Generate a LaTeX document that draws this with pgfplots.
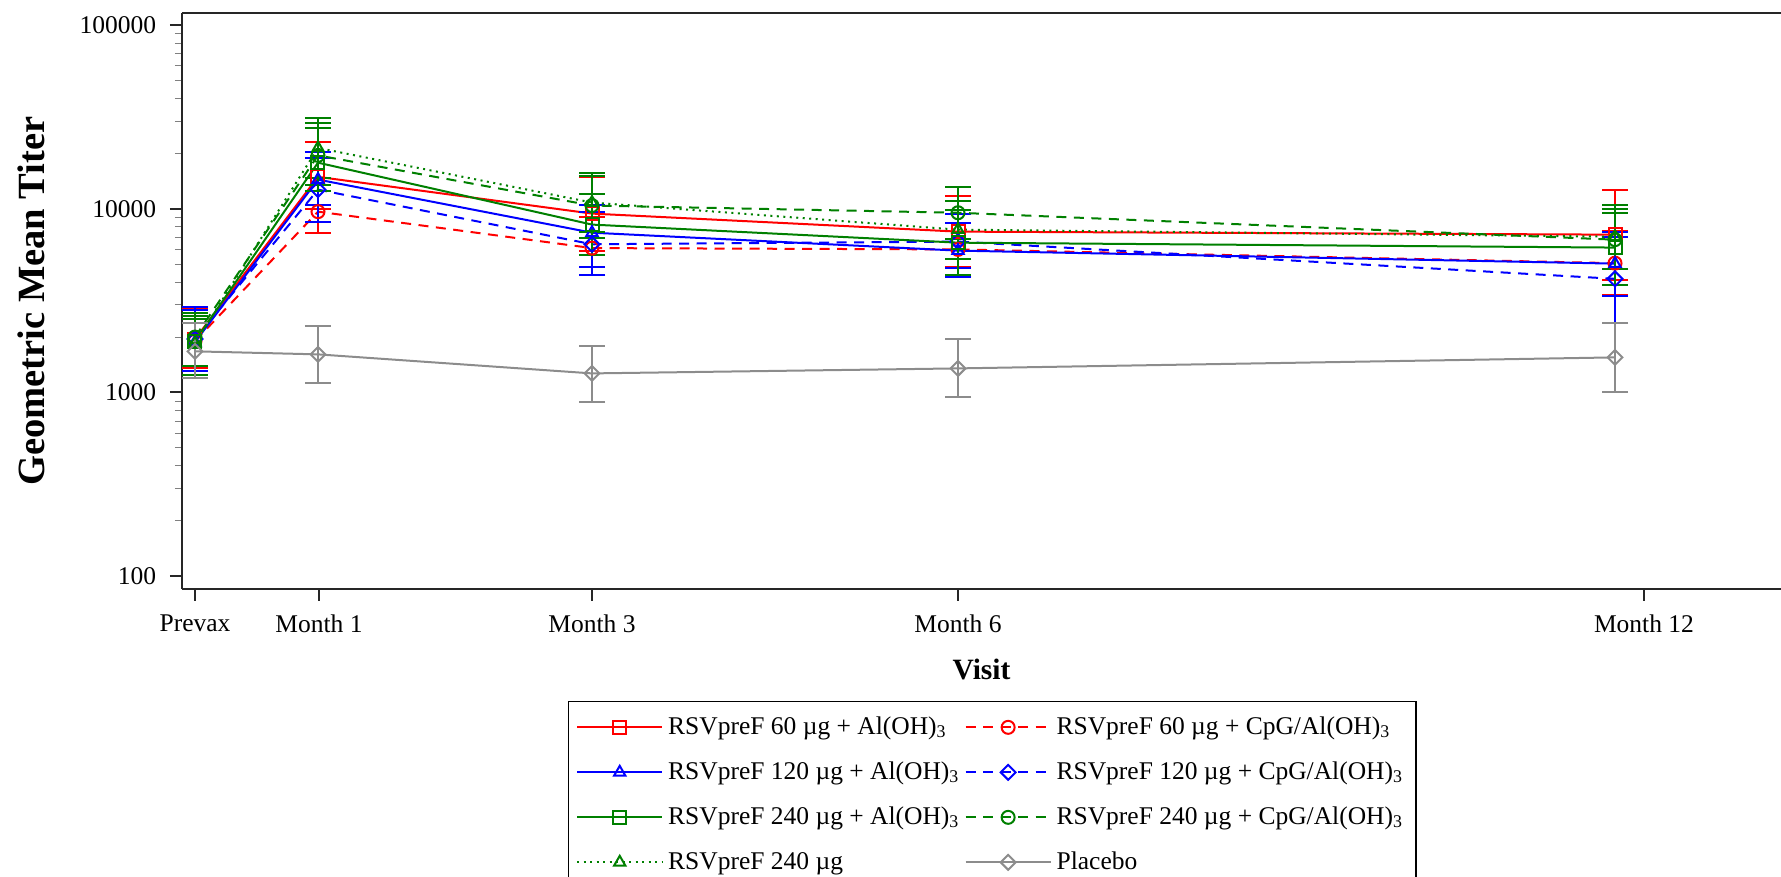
\documentclass[border=0pt]{standalone}
\usepackage{fontspec}
\setmainfont{Liberation Serif}
\usepackage{pgfplots}
\pgfplotsset{compat=1.18}

\definecolor{sasred}{RGB}{255,0,0}
\definecolor{sasblue}{RGB}{0,0,255}
\definecolor{sasgreen}{RGB}{0,128,0}
\definecolor{sasgray}{RGB}{140,140,140}

\pgfplotsset{
  ser/.style={line width=0.8pt, mark size=2.6pt, mark options={solid,line width=0.8pt},
    error bars/y dir=both, error bars/y explicit,
    error bars/error bar style={solid,line width=0.8pt},
    error bars/error mark options={rotate=90,mark size=5.2pt,line width=0.8pt,solid}},
  dia/.style={mark=square, mark size=2.1pt, mark options={solid,line width=0.8pt,rotate=45}},
  dsh/.style={dash pattern=on 4pt off 3pt},
  dts/.style={dash pattern=on 0.8pt off 1.8pt},
}

\begin{document}
\begin{tikzpicture}
\begin{axis}[
    scale only axis,
    width=639.6pt, height=230.4pt,
    ymode=log,
    xmin=182, xmax=1781,
    ymin=85, ymax=116200,
    axis x line=box, axis y line*=left,
    xtick pos=bottom,
    tick align=outside,
    major tick length=4.8pt,
    axis line style={line width=0.8pt, black!85},
    major tick style={line width=0.8pt, black!85},
    minor tick num=0,
    xtick={195,319,592,958,1644},
    xticklabels={Prevax,Month 1,Month 3,Month 6,Month 12},
    ytick={100,1000,10000,100000},
    yticklabels={100,1000,10000,100000},
    tick label style={font=\fontsize{10.2}{12}\selectfont},
    xticklabel style={yshift=-2pt},
    yticklabel style={xshift=-2pt},
    xlabel={Visit},
    ylabel={Geometric Mean Titer},
    xlabel style={font=\bfseries\fontsize{11.8}{14}\selectfont, at={(axis description cs:0.5,-0.1406)}, anchor=center},
    ylabel style={font=\bfseries\fontsize{15.4}{18}\selectfont, at={(axis description cs:-0.1032,0.5)}, anchor=north, inner sep=0pt},
    legend columns=2,
    legend cell align=left,
    legend image code/.code={\draw[mark repeat=2,mark phase=2] plot coordinates {(0pt,0pt) (17pt,0pt) (34pt,0pt)};},
    legend style={at={(axis description cs:0.2414,-0.1944)}, anchor=north west,
      draw=black, line width=0.6pt, inner sep=3pt,
      font=\fontsize{10.2}{12}\selectfont,
      nodes={inner sep=2pt, text height=8pt, text depth=2.5pt},
      row sep=3.5pt,
      /tikz/column 2/.style={column sep=0pt}},
]
% RSVpreF 60 ug + Al(OH)3
\addplot[ser, sasred, mark=square] table[x=x,y=y,y error plus=ep,y error minus=em] {
x y ep em
195 1950 900 600
318 14900 8100 4900
592 9400 5500 3500
958 7500 4200 2700
1615 7220 5480 3120
};
\addlegendentry{RSVpreF 60 µg + Al(OH)\textsubscript{3}}
% RSVpreF 60 ug + CpG/Al(OH)3
\addplot[ser, sasred, dsh, mark=o] table[x=x,y=y,y error plus=ep,y error minus=em] {
x y ep em
195 1900 700 500
318 9630 2870 2230
592 6100 2900 1720
958 6000 2400 1700
1615 5050 2550 1650
};
\addlegendentry{RSVpreF 60 µg + CpG/Al(OH)\textsubscript{3}}
% RSVpreF 120 ug + Al(OH)3
\addplot[ser, sasblue, mark=triangle] table[x=x,y=y,y error plus=ep,y error minus=em] {
x y ep em
195 1880 920 580
318 14400 6000 3900
592 7400 3100 2600
958 5910 2490 1690
1615 5020 2480 1690
};
\addlegendentry{RSVpreF 120 µg + Al(OH)\textsubscript{3}}
% RSVpreF 120 ug + CpG/Al(OH)3
\addplot[ser, sasblue, dsh, dia] table[x=x,y=y,y error plus=ep,y error minus=em] {
x y ep em
195 1950 950 650
318 12700 6200 4200
592 6400 3200 2020
958 6620 2680 1840
1615 4150 2850 1750
};
\addlegendentry{RSVpreF 120 µg + CpG/Al(OH)\textsubscript{3}}
% RSVpreF 240 ug + Al(OH)3
\addplot[ser, sasgreen, mark=square] table[x=x,y=y,y error plus=ep,y error minus=em] {
x y ep em
195 1900 700 650
318 17800 9700 5300
592 8190 3810 2590
958 6530 3270 2200
1615 6140 3360 2320
};
\addlegendentry{RSVpreF 240 µg + Al(OH)\textsubscript{3}}
% RSVpreF 240 ug + CpG/Al(OH)3
\addplot[ser, sasgreen, dsh, mark=o] table[x=x,y=y,y error plus=ep,y error minus=em] {
x y ep em
195 2000 700 600
318 19500 9800 6000
592 10400 5300 3500
958 9500 3700 2700
1615 6780 3220 2060
};
\addlegendentry{RSVpreF 240 µg + CpG/Al(OH)\textsubscript{3}}
% RSVpreF 240 ug
\addplot[ser, sasgreen, dts, mark=triangle] table[x=x,y=y,y error plus=ep,y error minus=em] {
x y ep em
195 1850 650 650
318 21400 9800 6800
592 10800 4200 3300
958 7690 3310 2390
1615 7040 3460 2320
};
\addlegendentry{RSVpreF 240 µg}
% Placebo
\addplot[ser, sasgray, dia] table[x=x,y=y,y error plus=ep,y error minus=em] {
x y ep em
195 1672 728 472
318 1610 680 480
592 1268 512 385
958 1350 610 410
1615 1550 850 550
};
\addlegendentry{Placebo}
\coordinate (SW) at (rel axis cs:0,0);
\coordinate (NE) at (rel axis cs:1,1);
\end{axis}
\pgfresetboundingbox
\path[use as bounding box] ([xshift=-72.8pt,yshift=-115.2pt]SW) rectangle ([yshift=5.2pt]NE);
\end{tikzpicture}
\end{document}
